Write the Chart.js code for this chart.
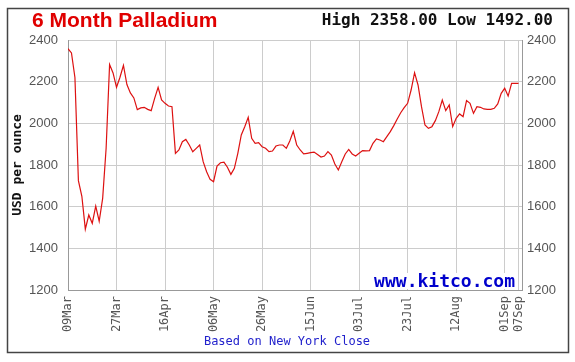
<!DOCTYPE html>
<html>
<head>
<meta charset="utf-8">
<script src="https://cdn.jsdelivr.net/npm/chart.js@4.4.0/dist/chart.umd.min.js"></script>
<style>
  html, body { margin: 0; padding: 0; background: #fff; }
  canvas { display: block; }
</style>
</head>
<body>
<canvas id="myChart" width="575" height="362"></canvas>
<script>
// trading days 09Mar .. 07Sep (weekdays), prices
var startDay = Date.UTC(2020, 2, 9);
var endDay = Date.UTC(2020, 8, 7);
var monthNames = ['Jan','Feb','Mar','Apr','May','Jun','Jul','Aug','Sep','Oct','Nov','Dec'];
var tickLabels = ['09Mar','27Mar','16Apr','06May','26May','15Jun','03Jul','23Jul','12Aug','01Sep','07Sep'];
var yTicks = [1200, 1400, 1600, 1800, 2000, 2200, 2400];

var prices = [
  2358, 2338, 2220, 1725, 1650, 1492, 1560, 1520, 1603, 1530,
  1640, 1880, 2282, 2242, 2173, 2221, 2278, 2186, 2146, 2122,
  2066, 2074, 2077, 2067, 2061, 2120, 2173, 2112, 2096, 2083,
  2080, 1856, 1872, 1912, 1923, 1896, 1864, 1880, 1896, 1816,
  1768, 1731, 1720, 1795, 1811, 1814, 1789, 1755, 1784, 1856,
  1944, 1984, 2029, 1928, 1904, 1907, 1888, 1880, 1864, 1867,
  1891, 1896, 1896, 1880, 1915, 1962, 1896, 1872, 1853, 1856,
  1859, 1862, 1850, 1838, 1843, 1864, 1848, 1805, 1776, 1816,
  1853, 1875, 1853, 1843, 1856, 1869, 1868, 1869, 1904, 1925,
  1920, 1912, 1936, 1960, 1989, 2021, 2051, 2075, 2096, 2160,
  2243, 2184, 2080, 1992, 1976, 1984, 2013, 2056, 2112, 2061,
  2088, 1984, 2024, 2045, 2032, 2109, 2096, 2048, 2080, 2077,
  2069, 2067, 2067, 2072, 2093, 2144, 2168, 2131, 2192, 2192,
  2192
];

var titleText = '6 Month Palladium';
var highLowText = 'High 2358.00 Low 1492.00';
var yTitle = 'USD per ounce';
var footText = 'Based on New York Close';
var brandText = 'www.kitco.com';

// build category list (weekdays only)
var categories = [];
for (var t = startDay; t <= endDay; t += 86400000) {
  var d = new Date(t);
  var wd = d.getUTCDay();
  if (wd === 0 || wd === 6) continue;
  categories.push(String(d.getUTCDate()).padStart(2, '0') + monthNames[d.getUTCMonth()]);
}

var points = prices.map(function (v, i) { return { x: i, y: v }; });

var mono = '"DejaVu Sans Mono", "Liberation Mono", monospace';
var sans = '"Liberation Sans", Arial, sans-serif';

var decor = {
  id: 'decor',
  afterDraw: function (chart) {
    var c = chart.ctx;
    var a = chart.chartArea;
    c.save();
    // outer frame
    c.strokeStyle = '#444';
    c.lineWidth = 1.5;
    c.strokeRect(7.5, 8.5, 561, 344);

    // title
    c.fillStyle = '#e00000';
    c.font = 'bold 21px ' + sans;
    c.textBaseline = 'middle';
    c.textAlign = 'left';
    c.fillText(titleText, 32, 21);

    c.fillStyle = '#111';
    c.font = 'bold 16px ' + mono;
    c.textAlign = 'right';
    c.fillText(highLowText, 553, 21);

    // kitco box
    c.font = 'bold 18px ' + mono;
    var w = c.measureText(brandText).width;
    c.fillStyle = '#fff';
    c.fillRect(a.right - w - 10, a.bottom - 17, w + 6, 16);
    c.fillStyle = '#0000cc';
    c.textAlign = 'right';
    c.fillText(brandText, a.right - 7, a.bottom - 8);

    // footer
    c.font = '12px ' + mono;
    c.fillStyle = '#2222cc';
    c.textAlign = 'center';
    c.fillText(footText, 287, 342);
    c.restore();
  }
};

function plainTick(v) { return String(v); }

var ctx = document.getElementById('myChart').getContext('2d');
var myChart = new Chart(ctx, {
  type: 'line',
  data: {
    datasets: [{
      label: 'palladium',
      data: points,
      borderColor: '#dd1111',
      borderWidth: 1.2,
      pointRadius: 0,
      tension: 0,
      fill: false
    }]
  },
  options: {
    responsive: false,
    animation: false,
    devicePixelRatio: 1,
    layout: { padding: { left: 0, right: 0, top: 40, bottom: 28 } },
    plugins: { legend: { display: false }, tooltip: { enabled: false } },
    scales: {
      x: {
        type: 'linear',
        min: 0,
        max: 131,
        afterBuildTicks: function (axis) {
          var tk = [];
          categories.forEach(function (c, i) {
            if (tickLabels.indexOf(c) >= 0) tk.push({ value: i });
          });
          axis.ticks = tk;
        },
        afterFit: function (axis) { axis.height = 44; },
        grid: { color: '#cccccc', drawTicks: false },
        border: { color: '#999' },
        ticks: {
          autoSkip: false,
          minRotation: 90,
          maxRotation: 90,
          padding: 6,
          color: '#555',
          font: { family: mono, size: 12 },
          callback: function (v) { return categories[v]; }
        }
      },
      y: {
        position: 'left',
        min: 1200,
        max: 2400,
        afterBuildTicks: function (axis) {
          axis.ticks = yTicks.map(function (v) { return { value: v }; });
        },
        afterFit: function (axis) { axis.width = 68; },
        grid: { color: '#cccccc', drawTicks: false },
        border: { color: '#999' },
        title: {
          display: true,
          text: yTitle,
          color: '#111',
          padding: { top: 10, bottom: 0 },
          font: { family: mono, size: 13, weight: 'bold' }
        },
        ticks: {
          padding: 10,
          color: '#555',
          font: { family: sans, size: 13 },
          callback: plainTick
        }
      },
      y2: {
        position: 'right',
        min: 1200,
        max: 2400,
        afterBuildTicks: function (axis) {
          axis.ticks = yTicks.map(function (v) { return { value: v }; });
        },
        afterFit: function (axis) { axis.width = 53; },
        grid: { drawOnChartArea: false, drawTicks: false },
        border: { color: '#999' },
        ticks: {
          padding: 5,
          color: '#555',
          font: { family: sans, size: 13 },
          callback: plainTick
        }
      }
    }
  },
  plugins: [decor]
});
</script>
</body>
</html>
